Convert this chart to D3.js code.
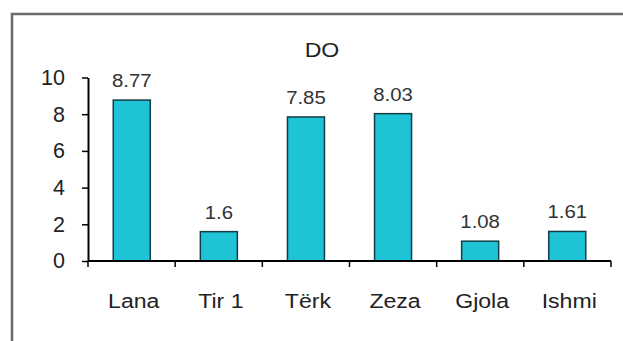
<!DOCTYPE html>
<html>
<head>
<meta charset="utf-8">
<script src="https://cdn.jsdelivr.net/npm/d3@7"></script>
<style>
  html, body { margin: 0; padding: 0; background: #fff; }
  svg { display: block; font-family: "Liberation Sans", Arial, sans-serif; }
</style>
</head>
<body>
<svg id="chart" width="623" height="341"></svg>
<script>
// Dissolved oxygen per sampling site
const categories = ["Lana", "Tir 1", "Tërk", "Zeza", "Gjola", "Ishmi"];
const values = [8.77, 1.6, 7.85, 8.03, 1.08, 1.61];
const yTicks = [0, 2, 4, 6, 8, 10];
const title = "DO";

const svg = d3.select("#chart");
const W = 623, H = 341;

// Outer frame (extends past the right and bottom edges)
svg.append("rect")
  .attr("x", 12).attr("y", 14)
  .attr("width", W + 20).attr("height", H + 20)
  .attr("fill", "#fff")
  .attr("stroke", "#6b6b6b")
  .attr("stroke-width", 2.5);

const plot = { left: 88, right: 611, top: 77.5, bottom: 261 };

const x = d3.scaleBand()
  .domain(categories)
  .range([plot.left, plot.right])
  .paddingInner(0.575)
  .paddingOuter(0.29);

const y = d3.scaleLinear()
  .domain([0, 10])
  .range([plot.bottom, plot.top]);

// Text is drawn slightly wider than the stock font
const stretch = 1.1;
function wideText(sel, cx, cy) {
  sel.attr("x", 0).attr("y", 0)
    .attr("transform", `translate(${cx},${cy}) scale(${stretch},1)`);
}

// Title
svg.append("text")
  .call(wideText, 322, 57)
  .attr("text-anchor", "middle")
  .attr("font-size", 21)
  .attr("fill", "#222")
  .text(title);

// Bars
svg.append("g").selectAll("rect")
  .data(categories)
  .join("rect")
  .attr("x", d => x(d))
  .attr("y", (d, i) => y(values[i]))
  .attr("width", x.bandwidth())
  .attr("height", (d, i) => y(0) - y(values[i]))
  .attr("fill", "#1fc3d6")
  .attr("stroke", "#143c44")
  .attr("stroke-width", 1.5);

// Value labels
svg.append("g").selectAll("text")
  .data(categories)
  .join("text")
  .each(function (d, i) {
    d3.select(this).call(wideText, x(d) + x.bandwidth() / 2, y(values[i]) - 13);
  })
  .attr("text-anchor", "middle")
  .attr("font-size", 18.5)
  .attr("fill", "#333")
  .text((d, i) => values[i]);

// Y axis
const yAxis = svg.append("g")
  .attr("transform", `translate(${plot.left},0)`)
  .call(d3.axisLeft(y).tickValues(yTicks).tickSize(6).tickPadding(17).tickSizeOuter(0));
yAxis.select(".domain").attr("stroke", "#000").attr("stroke-width", 2);
yAxis.selectAll(".tick line").attr("stroke", "#000").attr("stroke-width", 1.5);
yAxis.selectAll(".tick text")
  .attr("font-size", 21.5)
  .attr("fill", "#222")
  .attr("font-family", "Liberation Sans, Arial, sans-serif");

// X axis: ticks sit at band boundaries
const xAxis = svg.append("g")
  .attr("transform", `translate(0,${plot.bottom})`);
xAxis.append("line")
  .attr("x1", plot.left).attr("x2", plot.right)
  .attr("stroke", "#000").attr("stroke-width", 2);
const bounds = d3.range(categories.length + 1).map(i => plot.left + i * (plot.right - plot.left) / categories.length);
xAxis.selectAll("line.tk")
  .data(bounds)
  .join("line")
  .attr("class", "tk")
  .attr("x1", d => d).attr("x2", d => d)
  .attr("y1", 0).attr("y2", 6)
  .attr("stroke", "#000").attr("stroke-width", 1.5);
xAxis.selectAll("text")
  .data(categories)
  .join("text")
  .each(function (d) {
    d3.select(this).call(wideText, x(d) + x.bandwidth() / 2 + 2, 47);
  })
  .attr("text-anchor", "middle")
  .attr("font-size", 21)
  .attr("fill", "#222")
  .text(d => d);
</script>
</body>
</html>
